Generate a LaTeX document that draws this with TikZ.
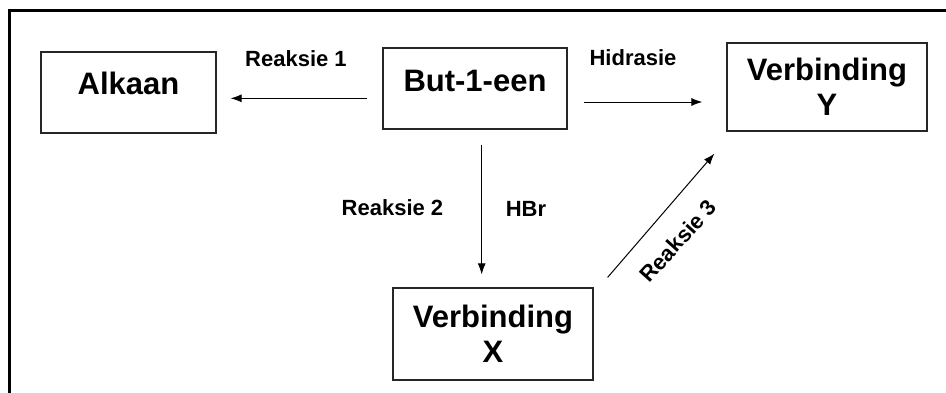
\documentclass[tikz,border=0pt]{standalone}
\usepackage{fontspec}
\setmainfont{Liberation Sans}
\usetikzlibrary{arrows.meta,calc}
\tikzset{
  box/.style={draw=black!85, line width=1.2pt, inner sep=0pt},
  big/.style={font=\fontsize{31}{35}\selectfont\bfseries, align=center, inner sep=0pt},
  small/.style={font=\fontsize{22}{26}\selectfont\bfseries, inner sep=0pt},
  arr/.style={draw=black, line width=1pt, -{Latex[length=11pt,width=8pt]}},
  frame/.style={line width=3.3pt, line join=miter, line cap=rect}
}
\begin{document}
\begin{tikzpicture}[x=1pt,y=1pt]
\useasboundingbox (0,0) rectangle (946,392);
\fill[white] (0,0) rectangle (946,392);
% frame
\coordinate (fbl) at (9.7,-10);
\coordinate (ftl) at (9.7,381.3);
\coordinate (ftr) at (960,381.3);
\draw[frame] (fbl) -- (ftl) -- (ftr);
% boxes
\node[box, minimum width=175pt, minimum height=81pt,
      label={[big, yshift=9.2pt]center:Alkaan}] (alk) at (128.5,299.5) {};
\node[box, minimum width=184pt, minimum height=81pt,
      label={[big, yshift=7.7pt]center:But-1-een}] (but) at (475,303.5) {};
\node[box, big, minimum width=200pt, minimum height=88pt] (vy) at (827,305) {Verbinding\\Y};
\node[box, big, minimum width=200pt, minimum height=92pt] (vx) at (493,58) {Verbinding\\X};
% labels
\node[small, anchor=base] (r1) at (296,325.3) {Reaksie 1};
\node[small, anchor=base] (hd) at (633,326.3) {Hidrasie};
\node[small, anchor=base] (r2) at (392.5,177) {Reaksie 2};
\node[small, anchor=base] (hbr) at (526,175.3) {HBr};
\node[small, rotate=48] (r3) at (678,151) {Reaksie 3};
% arrows
\draw[arr] ($(but.west)+(-15,-9.8)$) -- ($(alk.east)+(14,-5.8)$);
\draw[arr] ($(but.east)+(16,-13.5)$) -- ($(vy.west)+(-24,-15)$);
\draw[arr] ($(but.south)+(6.7,-15)$) -- ($(vx.north)+(-11.3,13)$);
\draw[arr] ($(vx.north east)+(14,10)$) -- ($(vy.south west)+(-12,-22)$);
\end{tikzpicture}
\end{document}
